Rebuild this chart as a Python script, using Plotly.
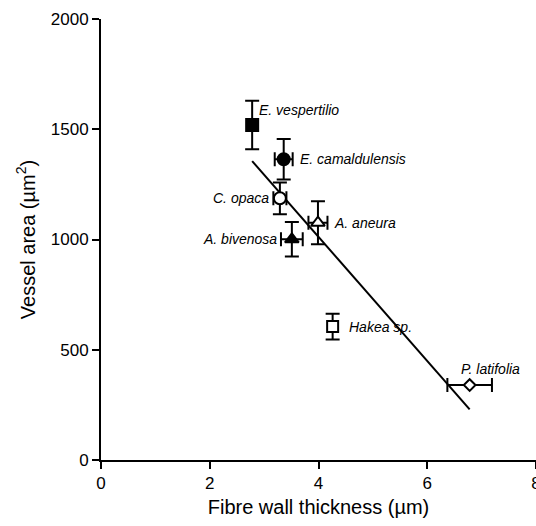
import numpy as np
import plotly.graph_objects as go

# ---- data ----
species = ["E. vespertilio", "E. camaldulensis", "C. opaca", "A. aneura",
           "A. bivenosa", "Hakea sp.", "P. latifolia"]
fibre_wall = [2.78, 3.36, 3.29, 3.99, 3.51, 4.26, 6.78]          # µm
fibre_wall_err = [0.0, 0.165, 0.12, 0.175, 0.20, 0.0, 0.41]
vessel_area = [1519, 1364, 1187, 1076, 1001, 605, 340]           # µm²
vessel_area_err = [110, 92, 72, 98, 78, 58, 0]

x_ticks = [0, 2, 4, 6, 8]
y_ticks = [0, 500, 1000, 1500, 2000]

# ---- styling (not data) ----
symbols = ["square", "circle", "circle", "triangle-up", "triangle-up", "square", "diamond"]
fills = ["black", "black", "white", "white", "black", "white", "white"]
sizes = [12, 12, 12, 12, 12, 11, 9]
# label offsets in pixels: (xshift, yshift, xanchor)
label_pos = [(5, 15, "left"), (14, 0, "left"), (-9, 0, "right"), (14, 0, "left"),
             (-13, 0, "right"), (14, 0, "left"), (-11, 16, "left")]

FONT = "Liberation Sans, Arial, sans-serif"

fig = go.Figure()

# regression line across the data range
slope, intercept = np.polyfit(fibre_wall, vessel_area, 1)
xl = np.array([min(fibre_wall), max(fibre_wall)])
fig.add_trace(go.Scatter(x=xl, y=slope * xl + intercept, mode="lines",
                         line=dict(color="black", width=2), hoverinfo="skip",
                         showlegend=False))

for i, name in enumerate(species):
    fig.add_trace(go.Scatter(
        x=[fibre_wall[i]], y=[vessel_area[i]], mode="markers", name=name,
        marker=dict(symbol=symbols[i], size=sizes[i], color=fills[i],
                    line=dict(color="black", width=2)),
        error_x=dict(type="data", array=[fibre_wall_err[i]], visible=fibre_wall_err[i] > 0,
                     color="black", thickness=2, width=7),
        error_y=dict(type="data", array=[vessel_area_err[i]], visible=vessel_area_err[i] > 0,
                     color="black", thickness=2, width=7),
        showlegend=False,
    ))
    xs, ys, anc = label_pos[i]
    fig.add_annotation(x=fibre_wall[i], y=vessel_area[i], text=f"<i>{name}</i>",
                       showarrow=False, xanchor=anc, yanchor="middle",
                       xshift=xs, yshift=ys,
                       font=dict(family=FONT, size=14, color="black"))

fig.update_layout(
    width=536, height=526,
    margin=dict(l=101, r=0, t=19, b=66),
    paper_bgcolor="white", plot_bgcolor="white",
    font=dict(family=FONT, color="black"),
    xaxis=dict(range=[0, 8], tickvals=x_ticks, showgrid=False, zeroline=False,
               showline=True, linecolor="black", linewidth=2,
               ticks="outside", ticklen=7, tickwidth=2, tickcolor="black",
               tickfont=dict(size=17), automargin=False, ticklabeloverflow="allow",
               title=dict(text="Fibre wall thickness (µm)", font=dict(size=20), standoff=8)),
    yaxis=dict(range=[0, 2000], tickvals=y_ticks, showgrid=False, zeroline=False,
               showline=True, linecolor="black", linewidth=2,
               ticks="outside", ticklen=7, tickwidth=2, tickcolor="black",
               tickfont=dict(size=17), automargin=False,
               title=dict(text="Vessel area (µm<sup>2</sup>)", font=dict(size=20), standoff=10)),
)

fig.write_html("out.html")
